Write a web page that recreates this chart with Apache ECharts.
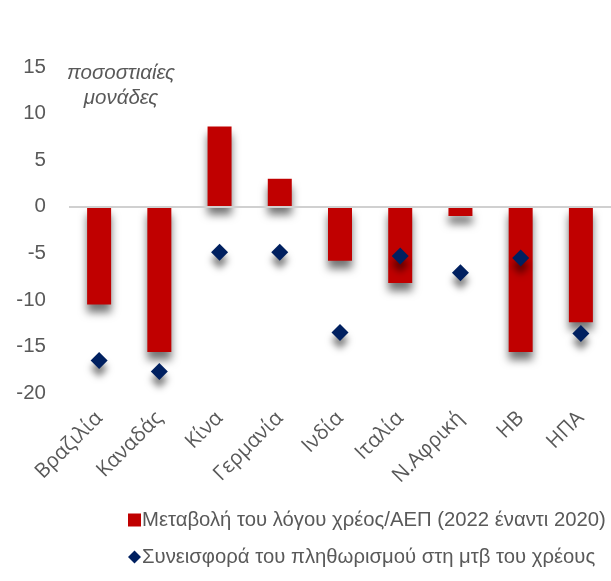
<!DOCTYPE html>
<html><head><meta charset="utf-8">
<script src="https://cdn.jsdelivr.net/npm/echarts@6/dist/echarts.min.js"></script>
<style>html,body{margin:0;padding:0;background:#fff}#c{width:611px;height:581px}</style>
</head><body><div id="c"></div>
<script>
const categories = ["Βραζιλία","Καναδάς","Κίνα","Γερμανία","Ινδία","Ιταλία","Ν.Αφρική","ΗΒ","ΗΠΑ"];
const debtChange = [-10.5,-15.6,8.6,3.0,-5.8,-8.2,-1.0,-15.6,-12.4];
const inflationContribution = [-16.5,-17.7,-4.9,-4.9,-13.5,-5.3,-7.1,-5.5,-13.6];
const yTicks = [-20,-15,-10,-5,0,5,10,15];
const barName = "Μεταβολή του λόγου χρέος/ΑΕΠ (2022 έναντι 2020)";
const dotName = "Συνεισφορά του πληθωρισμού στη μτβ του χρέους";
const unitLabel = ["ποσοστιαίες","μονάδες"];

const chart = echarts.init(document.getElementById('c'));
const font = "Liberation Sans, Arial, sans-serif";
chart.setOption({
  animation:false,
  grid:{left:69,right:-3,top:67,bottom:188,containLabel:false},
  xAxis:{type:'category',data:categories,position:'bottom',
    axisLine:{show:false,onZero:false},axisTick:{show:false},
    axisLabel:{rotate:45,interval:0,color:'#595959',fontSize:20.5,fontFamily:'Open Sans, sans-serif',margin:22}},
  yAxis:{type:'value',min:yTicks[0],max:yTicks[yTicks.length-1],interval:5,
    axisLine:{show:false},axisTick:{show:false},splitLine:{show:false},
    axisLabel:{color:'#595959',fontSize:20.5,fontFamily:font,margin:23}},
  legend:{orient:'vertical',left:123,top:505,itemGap:17,itemWidth:13,itemHeight:13,
    textStyle:{color:'#595959',fontSize:20.3,fontFamily:font,padding:[0,0,0,-4]},
    data:[{name:barName,icon:'rect'},{name:dotName,icon:'diamond'}]},
  graphic:[{type:'text',x:121,y:61,style:{text:unitLabel.join('\n'),
    font:'italic 20.5px '+font,fill:'#595959',align:'center',textAlign:'center',lineHeight:25}}],
  series:[
    {name:barName,type:'bar',data:debtChange,barWidth:24,
      itemStyle:{color:'#C00000',shadowColor:'rgba(0,0,0,0.55)',shadowBlur:8,shadowOffsetY:8},
      markLine:{silent:true,symbol:'none',label:{show:false},
        lineStyle:{color:'#d0d0d0',width:2,type:'solid'},data:[{yAxis:0}]}},
    {name:dotName,type:'scatter',data:inflationContribution,symbol:'diamond',symbolSize:17,
      itemStyle:{color:'#002060',opacity:1,shadowColor:'rgba(0,0,0,0.5)',shadowBlur:7,shadowOffsetY:8}}
  ]
});
</script></body></html>
